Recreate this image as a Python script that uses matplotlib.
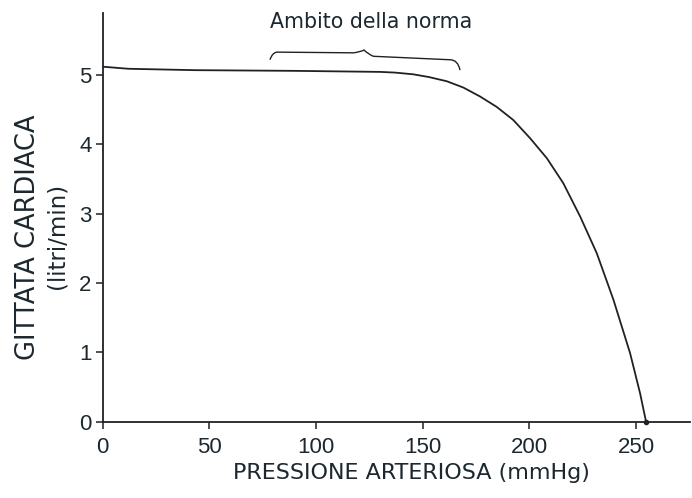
import matplotlib
matplotlib.use("Agg")
import matplotlib.pyplot as plt
from matplotlib.path import Path
from matplotlib.patches import PathPatch

# Cardiac output vs. arterial pressure
pressione = [0, 12, 43, 90, 130, 137, 145.6, 153, 161.3, 169, 176.9, 184.7,
             192.5, 200.3, 208.2, 215.9, 223.8, 231.6, 239.4, 247.2, 251.9, 254.7]
gittata = [5.12, 5.09, 5.07, 5.06, 5.045, 5.035, 5.01, 4.97, 4.91, 4.82, 4.69, 4.54,
           4.35, 4.09, 3.80, 3.44, 2.96, 2.43, 1.76, 0.99, 0.41, 0.0]

x_ticks = [0, 50, 100, 150, 200, 250]
y_ticks = [0, 1, 2, 3, 4, 5]

ink = "#1e2226"
txt = "#1b2830"
plt.rcParams["font.family"] = ["Liberation Sans", "DejaVu Sans"]
wide = "DejaVu Sans"

fig = plt.figure(figsize=(6.92, 4.98), dpi=100)
ax = fig.add_axes([102.7 / 692, 1 - 421.7 / 498, (690 - 102.7) / 692, (421.7 - 13.3) / 498])

ax.plot(pressione, gittata, color=ink, lw=1.3, solid_capstyle="round",
        solid_joinstyle="round")
ax.plot([pressione[-1]], [gittata[-1]], "o", color=ink, ms=3, clip_on=False)

ax.set_xlim(0, 275.3)
ax.set_ylim(0, 5.89)
ax.set_xticks(x_ticks)
ax.set_yticks(y_ticks)
ax.set_xticklabels([str(v) for v in x_ticks])
ax.set_yticklabels([str(v) for v in y_ticks])
for s in ("top", "right"):
    ax.spines[s].set_visible(False)
for s in ("left", "bottom"):
    ax.spines[s].set_color(ink)
    ax.spines[s].set_linewidth(1.3)
ax.tick_params(axis="both", direction="out", length=5, width=1.1, color=ink,
               labelsize=16, labelcolor=txt)
ax.tick_params(axis="x", pad=6)
ax.tick_params(axis="y", pad=3)

# Brace marking the normal range
verts = [(78.4, 5.22), (79.5, 5.32), (81.6, 5.33),
         (117.5, 5.32), (120.5, 5.33), (122.5, 5.36),
         (124.5, 5.30), (126.9, 5.27),
         (162.8, 5.22), (166.5, 5.22), (167.5, 5.07)]
codes = [Path.MOVETO, Path.CURVE3, Path.CURVE3,
         Path.LINETO, Path.CURVE3, Path.CURVE3,
         Path.CURVE3, Path.CURVE3,
         Path.LINETO, Path.CURVE3, Path.CURVE3]
ax.add_patch(PathPatch(Path(verts, codes), fill=False, edgecolor=ink, lw=1.0, clip_on=False))

fig.text(371.5 / 692, 1 - 22 / 498, "Ambito della norma", ha="center", va="center",
         fontsize=14.8, color=txt, family=wide)
fig.text(411 / 692, 1 - 473 / 498, "PRESSIONE ARTERIOSA (mmHg)", ha="center", va="center",
         fontsize=16, color=txt, family=wide)
fig.text(28 / 692, 1 - 237 / 498, "GITTATA CARDIACA", ha="center", va="center",
         rotation=90, fontsize=18.5, color=txt, family=wide)
fig.text(57 / 692, 1 - 236 / 498, "(litri/min)", ha="center", va="center",
         rotation=90, fontsize=16.5, color=txt, family=wide)

fig.savefig("out.png", dpi=100, facecolor="white")
